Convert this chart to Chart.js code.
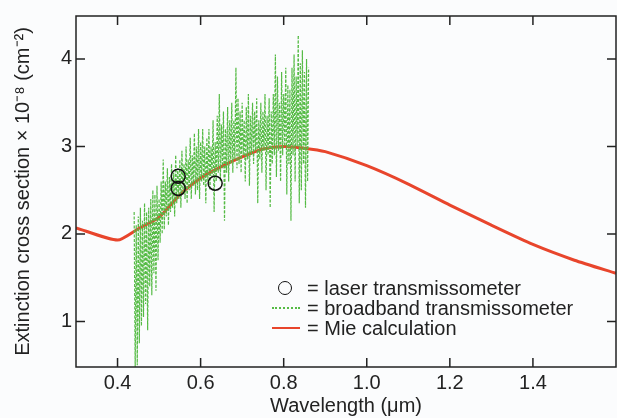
<!DOCTYPE html>
<html>
<head>
<meta charset="utf-8">
<script src="https://cdn.jsdelivr.net/npm/chart.js@4"></script>
<style>
body{margin:0;background:#fbfcfd;}
#wrap{position:relative;width:617px;height:418px;}
#legend{position:absolute;left:272px;top:278px;font:20px "Liberation Sans",Arial,sans-serif;color:#222;}
.row{height:20px;line-height:20px;display:flex;align-items:center;white-space:nowrap;}
.mark{width:28px;height:20px;position:relative;margin-right:7px;}
.mark .c{position:absolute;left:6px;top:3px;width:12px;height:12px;border:1.5px solid #111;border-radius:50%;}
.mark .g{position:absolute;left:0;top:9px;width:28px;border-top:2px dotted #55bb45;}
.mark .r{position:absolute;left:0;top:9px;width:28px;border-top:2.5px solid #e8452c;}
</style>
</head>
<body>
<div id="wrap">
<canvas id="myChart" width="617" height="418"></canvas>
<div id="legend"></div>
</div>
<script>
const names = ["= laser transmissometer", "= broadband transmissometer", "= Mie calculation"];

// laser transmissometer
const laserX = [0.546, 0.546, 0.635];
const laserY = [2.66, 2.52, 2.58];

// Mie calculation
const mieX = [0.3, 0.4, 0.45, 0.5, 0.55, 0.6, 0.65, 0.7, 0.75, 0.8, 0.85, 0.9, 1.0, 1.1, 1.2, 1.3, 1.4, 1.5, 1.6];
const mieY = [2.07, 1.93, 2.06, 2.19, 2.45, 2.64, 2.77, 2.88, 2.97, 3.0, 2.98, 2.94, 2.78, 2.57, 2.33, 2.1, 1.88, 1.70, 1.55];

// broadband transmissometer
const bbX = [0.44,0.4425,0.445,0.4475,0.45,0.4525,0.455,0.4575,0.46,0.4625,
  0.465,0.4675,0.47,0.4725,0.475,0.4775,0.48,0.4825,0.485,0.4875,
  0.49,0.4925,0.495,0.4975,0.5,0.5025,0.505,0.5075,0.51,0.5125,
  0.515,0.5175,0.52,0.5225,0.525,0.5275,0.53,0.5325,0.535,0.5375,
  0.54,0.5425,0.545,0.5475,0.55,0.5525,0.555,0.5575,0.56,0.5625,
  0.565,0.5675,0.57,0.5725,0.575,0.5775,0.58,0.5825,0.585,0.5875,
  0.59,0.5925,0.595,0.5975,0.6,0.6025,0.605,0.6075,0.61,0.6125,
  0.615,0.6175,0.62,0.6225,0.625,0.6275,0.63,0.6325,0.635,0.6375,
  0.64,0.6425,0.645,0.6475,0.65,0.6525,0.655,0.6575,0.66,0.6625,
  0.665,0.6675,0.67,0.6725,0.675,0.6775,0.68,0.6825,0.685,0.6875,
  0.69,0.6925,0.695,0.6975,0.7,0.7025,0.705,0.7075,0.71,0.7125,
  0.715,0.7175,0.72,0.7225,0.725,0.7275,0.73,0.7325,0.735,0.7375,
  0.74,0.7425,0.745,0.7475,0.75,0.7525,0.755,0.7575,0.76,0.7625,
  0.765,0.7675,0.77,0.7725,0.775,0.7775,0.78,0.7825,0.785,0.7875,
  0.79,0.7925,0.795,0.7975,0.8,0.8025,0.805,0.8075,0.81,0.8125,
  0.815,0.8175,0.82,0.8225,0.825,0.8275,0.83,0.8325,0.835,0.8375,
  0.84,0.8425,0.845,0.8475,0.85,0.8525,0.855,0.8575,0.86];
const bbY = [2.25,0.45,2.1,0.5,2.2,0.75,2.3,0.95,2.15,1.05,
  2.35,1.2,2.25,0.9,2.3,1.4,2.4,1.3,2.5,1.55,
  2.45,1.35,2.55,1.7,2.4,1.9,2.6,2.0,2.85,2.05,
  2.6,2.2,2.75,2.1,2.65,2.25,2.8,2.3,2.7,2.2,
  2.9,2.35,2.75,2.4,2.85,2.3,2.95,2.45,2.8,2.4,
  3.0,2.35,2.85,2.5,3.1,2.4,2.9,2.55,3.15,2.45,
  3.0,2.5,3.2,2.4,3.05,2.6,3.2,2.55,3.0,2.35,
  3.1,2.6,3.2,2.5,3.0,2.65,3.3,2.25,3.05,2.6,
  3.35,2.7,3.6,2.6,3.25,2.75,3.4,2.15,3.2,2.7,
  3.45,2.6,3.3,2.8,3.5,2.7,3.3,2.85,3.9,2.75,
  3.55,2.8,3.4,2.7,3.5,2.9,3.3,2.6,3.45,2.85,
  3.6,2.55,3.35,2.9,3.5,2.8,3.4,2.95,3.55,2.35,
  3.3,2.85,3.5,2.7,3.4,2.95,3.6,2.5,3.35,2.9,
  3.55,2.3,3.4,2.8,3.6,2.9,4.05,2.65,3.8,2.95,
  3.5,2.6,3.85,2.9,3.6,3.0,3.9,2.45,3.7,2.8,
  3.65,2.15,3.9,2.9,4.05,2.6,3.8,3.0,4.27,2.35,
  3.95,2.5,4.1,2.8,3.85,2.3,4.0,2.6,3.9];

const xTicks = [0.4, 0.6, 0.8, 1.0, 1.2, 1.4];
const yTicks = [1, 2, 3, 4];

const font = "'Liberation Sans', Arial, sans-serif";
const ink = "#222";

function pts(xs, ys) { return xs.map((x, i) => ({x: x, y: ys[i]})); }

// legend
let leg = document.getElementById("legend");
["c", "g", "r"].forEach((k, i) => {
  let row = document.createElement("div");
  row.className = "row";
  row.innerHTML = '<span class="mark"><span class="' + k + '"></span></span>';
  let t = document.createElement("span");
  t.textContent = names[i];
  row.appendChild(t);
  leg.appendChild(row);
});

// box + inward ticks
const frame = {
  id: "frame",
  afterDraw(chart) {
    const ctx = chart.ctx, a = chart.chartArea;
    const xs = chart.scales.x, ys = chart.scales.y;
    ctx.save();
    ctx.strokeStyle = ink;
    ctx.lineWidth = 1.5;
    ctx.strokeRect(a.left, a.top, a.right - a.left, a.bottom - a.top);
    ctx.beginPath();
    xTicks.forEach(v => {
      let p = xs.getPixelForValue(v);
      ctx.moveTo(p, a.bottom); ctx.lineTo(p, a.bottom - 9);
      ctx.moveTo(p, a.top); ctx.lineTo(p, a.top + 9);
    });
    yTicks.forEach(v => {
      let p = ys.getPixelForValue(v);
      ctx.moveTo(a.left, p); ctx.lineTo(a.left + 9, p);
      ctx.moveTo(a.right, p); ctx.lineTo(a.right - 9, p);
    });
    ctx.stroke();
    ctx.restore();
  }
};

new Chart("myChart", {
  type: "scatter",
  data: {
    datasets: [
      {
        label: names[0],
        data: pts(laserX, laserY),
        showLine: false,
        pointRadius: 7,
        pointBorderWidth: 1.5,
        pointBorderColor: "#111",
        pointBackgroundColor: "rgba(0,0,0,0)",
        order: 0
      },
      {
        label: names[1],
        data: pts(bbX, bbY),
        showLine: true,
        borderColor: "#55bb45",
        borderWidth: 1.2,
        borderDash: [3, 1.5],
        pointRadius: 0,
        order: 1
      },
      {
        label: names[2],
        data: pts(mieX, mieY),
        showLine: true,
        borderColor: "#e8452c",
        borderWidth: 3,
        pointRadius: 0,
        tension: 0.2,
        order: 2
      }
    ]
  },
  options: {
    responsive: false,
    animation: false,
    layout: { autoPadding: false, padding: { top: 14, right: 1, left: 0, bottom: 0 } },
    plugins: { legend: { display: false }, tooltip: { enabled: false } },
    scales: {
      x: {
        type: "linear",
        min: 0.3, max: 1.6,
        grid: { display: false, drawTicks: false },
        border: { display: false },
        afterBuildTicks: s => { s.ticks = xTicks.map(v => ({value: v})); },
        afterFit: s => { s.height = 51; s.paddingLeft = 0; s.paddingRight = 0; },
        ticks: { color: ink, padding: 4, font: { family: font, size: 20 }, callback: v => v.toFixed(1) },
        title: { display: true, text: "Wavelength (μm)", color: ink, font: { family: font, size: 20 }, padding: { top: 0, bottom: 0 } }
      },
      y: {
        type: "linear",
        min: 0.48, max: 4.49,
        grid: { display: false, drawTicks: false },
        border: { display: false },
        afterBuildTicks: s => { s.ticks = yTicks.map(v => ({value: v})); },
        afterFit: s => { s.width = 76; },
        ticks: { color: ink, padding: 4, font: { family: font, size: 20 }, callback: v => String(v) },
        title: { display: true, text: "Extinction cross section × 10⁻⁸ (cm⁻²)", color: ink, font: { family: font, size: 20 }, padding: { top: 11, bottom: 0 } }
      }
    }
  },
  plugins: [frame]
});
</script>
</body>
</html>
